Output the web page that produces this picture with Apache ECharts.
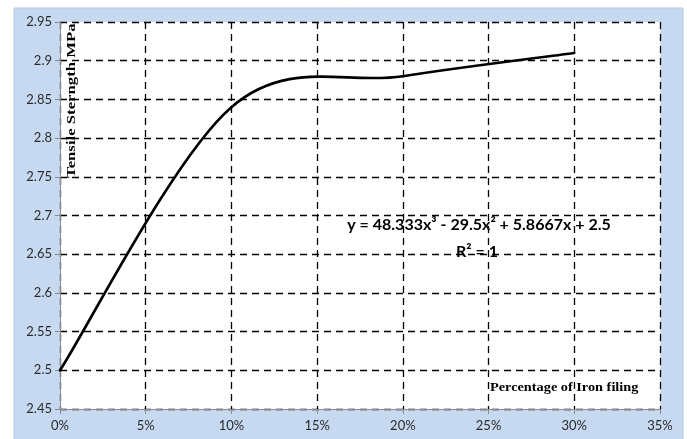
<!DOCTYPE html>
<html>
<head>
<meta charset="utf-8">
<script src="https://cdn.jsdelivr.net/npm/echarts@6/dist/echarts.min.js"></script>
<style>
  html, body { margin: 0; padding: 0; background: #fff; }
  #main { width: 687px; height: 439px; }
</style>
</head>
<body>
<div id="main"></div>
<script>
// iron filing content (fraction) and tensile strength (MPa)
var ironFiling = [0, 0.10, 0.20, 0.30];
var tensile = [2.5, 2.84, 2.88, 2.91];

var xTicks = { min: 0, max: 0.35, step: 0.05 };
var yTicks = { min: 2.45, max: 2.95, step: 0.05 };

var eqText = 'y = 48.333x\u00B3 - 29.5x\u00B2 + 5.8667x + 2.5';
var r2Text = 'R\u00B2 = 1';

var chart = echarts.init(document.getElementById('main'));

var points = ironFiling.map(function (x, i) { return [x, tensile[i]]; });

// spreadsheet-style smoothed line: one bezier per segment, control points
// taken from the neighbouring data points (tension 1/6), no clamping
function renderSegment(params, api) {
  var i = params.dataIndex;
  var n = points.length;
  if (i >= n - 1) return null;
  var p = points.map(function (d) { return api.coord(d); });
  var p0 = p[Math.max(i - 1, 0)], p1 = p[i], p2 = p[i + 1], p3 = p[Math.min(i + 2, n - 1)];
  return {
    type: 'bezierCurve',
    shape: {
      x1: p1[0], y1: p1[1],
      cpx1: p1[0] + (p2[0] - p0[0]) / 6, cpy1: p1[1] + (p2[1] - p0[1]) / 6,
      cpx2: p2[0] - (p3[0] - p1[0]) / 6, cpy2: p2[1] - (p3[1] - p1[1]) / 6,
      x2: p2[0], y2: p2[1]
    },
    style: { stroke: '#000', lineWidth: 2.6, fill: null, lineCap: 'round' }
  };
}

var gridDash = { type: [7, 5], color: '#000', width: 1.3 };

var option = {
  backgroundColor: '#fff',
  animation: false,
  graphic: [
    {
      type: 'rect', z: -10, silent: true,
      shape: { x: 14, y: 8, width: 669, height: 440 },
      style: { fill: '#c6d9f1', stroke: '#b5c9e2', lineWidth: 1 }
    },
    {
      type: 'text', x: 479, y: 225, z: 10,
      style: { text: eqText, font: 'bold 16px Lato', fill: '#000', align: 'center', verticalAlign: 'middle' }
    },
    {
      type: 'text', x: 477, y: 252, z: 10,
      style: { text: r2Text, font: 'bold 16px Lato', fill: '#000', align: 'center', verticalAlign: 'middle' }
    },
    {
      type: 'text', x: 490, y: 388, z: 10, scaleX: 1.1,
      style: { text: 'Percentage of Iron filing', font: 'bold 13px "Liberation Serif"', fill: '#000', verticalAlign: 'middle' }
    },
    {
      type: 'text', x: 72, y: 178, rotation: Math.PI / 2, z: 10, scaleX: 1.24,
      style: { text: 'Tensile Sterngth MPa', font: 'bold 13.5px "Liberation Serif"', fill: '#000', verticalAlign: 'middle' }
    }
  ],
  grid: {
    left: 60, right: 27, top: 22, bottom: 30,
    show: true, backgroundColor: '#fff', borderWidth: 0
  },
  xAxis: {
    type: 'value',
    min: xTicks.min, max: xTicks.max, interval: xTicks.step,
    axisLine: { show: true, lineStyle: { color: '#8c8c8c', width: 1 } },
    axisTick: { show: true, length: 5, lineStyle: { color: '#8c8c8c' } },
    axisLabel: {
      margin: 10, color: '#2b2b2b', fontSize: 13, fontFamily: 'Lato',
      formatter: function (v) { return Math.round(v * 100) + '%'; }
    },
    splitLine: { show: true, lineStyle: gridDash }
  },
  yAxis: {
    type: 'value',
    min: yTicks.min, max: yTicks.max, interval: yTicks.step,
    axisLine: { show: true, lineStyle: { color: '#8c8c8c', width: 1 } },
    axisTick: { show: true, length: 5, lineStyle: { color: '#8c8c8c' } },
    axisLabel: {
      margin: 8, color: '#2b2b2b', fontSize: 13, fontFamily: 'Lato',
      formatter: function (v) { return +v.toFixed(2) + ''; }
    },
    splitLine: { show: true, lineStyle: gridDash }
  },
  series: [
    {
      type: 'custom',
      data: points,
      renderItem: renderSegment,
      encode: { x: 0, y: 1 },
      z: 5
    }
  ]
};

chart.setOption(option);
</script>
</body>
</html>
